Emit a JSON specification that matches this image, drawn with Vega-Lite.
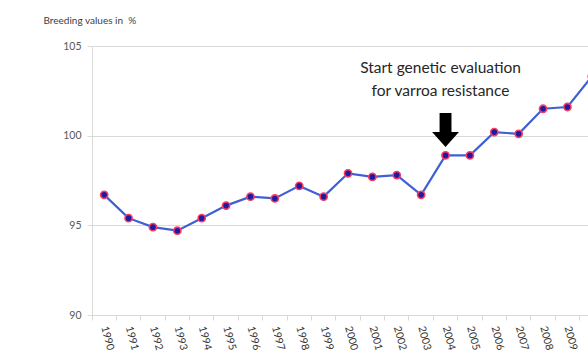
{
  "$schema": "https://vega.github.io/schema/vega-lite/v6.json",
  "autosize": "none",
  "padding": {"left": 92, "top": 46, "right": 0, "bottom": 38},
  "width": 496,
  "height": 269,
  "background": "white",
  "config": {
    "view": {"stroke": null},
    "font": "Lato",
    "axis": {
      "domainColor": "#d9d9d9",
      "gridColor": "#d9d9d9",
      "tickColor": "#d9d9d9",
      "tickSize": 5,
      "labelFont": "Lato",
      "titleFont": "Lato"
    }
  },
  "data": {
    "values": [
      {"year": "1990", "value": 96.7},
      {"year": "1991", "value": 95.4},
      {"year": "1992", "value": 94.9},
      {"year": "1993", "value": 94.7},
      {"year": "1994", "value": 95.4},
      {"year": "1995", "value": 96.1},
      {"year": "1996", "value": 96.6},
      {"year": "1997", "value": 96.5},
      {"year": "1998", "value": 97.2},
      {"year": "1999", "value": 96.6},
      {"year": "2000", "value": 97.9},
      {"year": "2001", "value": 97.7},
      {"year": "2002", "value": 97.8},
      {"year": "2003", "value": 96.7},
      {"year": "2004", "value": 98.9},
      {"year": "2005", "value": 98.9},
      {"year": "2006", "value": 100.2},
      {"year": "2007", "value": 100.1},
      {"year": "2008", "value": 101.5},
      {"year": "2009", "value": 101.6},
      {"year": "2010", "value": 103.3}
    ]
  },
  "encoding": {
    "x": {
      "field": "year",
      "type": "ordinal",
      "scale": {"type": "band", "range": [0, 512], "paddingInner": 0, "paddingOuter": 0},
      "axis": {
        "title": null,
        "grid": false,
        "bandPosition": 0,
        "labelAngle": 75,
        "labelAlign": "left",
        "labelBaseline": "middle",
        "labelPadding": 6,
        "labelFontSize": 10.5,
        "labelColor": "#333333",
        "labelOverlap": false
      }
    },
    "y": {
      "field": "value",
      "type": "quantitative",
      "scale": {"domain": [90, 105], "nice": false, "zero": false},
      "axis": {
        "values": [90, 95, 100, 105],
        "grid": true,
        "labelFontSize": 10.5,
        "labelColor": "#595959",
        "labelPadding": 6,
        "title": "Breeding values in\u00a0 %",
        "titleAngle": 0,
        "titleAlign": "left",
        "titleBaseline": "middle",
        "titleX": -49,
        "titleY": -26,
        "titleFontSize": 10,
        "titleFontWeight": "normal",
        "titleColor": "#404040"
      }
    }
  },
  "layer": [
    {
      "mark": {"type": "line", "color": "#3f5fd4", "strokeWidth": 2.2}
    },
    {
      "mark": {"type": "point", "filled": true, "fill": "#1c1ca0", "stroke": "#ff3a62", "strokeWidth": 1.6, "size": 52, "opacity": 1}
    },
    {
      "data": {"values": [{"year": "2004", "value": 103.76, "note": ["Start genetic evaluation", "for varroa resistance"]}]},
      "mark": {"type": "text", "fontSize": 15.5, "lineHeight": 23, "color": "#262626", "align": "center", "baseline": "middle", "dx": -5},
      "encoding": {"text": {"field": "note"}}
    },
    {
      "data": {"values": [{"year": "2004", "value": 100.32}]},
      "mark": {
        "type": "point",
        "filled": true,
        "color": "black",
        "opacity": 1,
        "size": 1156,
        "shape": "M-0.35,-1L0.35,-1L0.35,0.12L0.79,0.12L0,1L-0.79,0.12L-0.35,0.12Z"
      }
    }
  ]
}
